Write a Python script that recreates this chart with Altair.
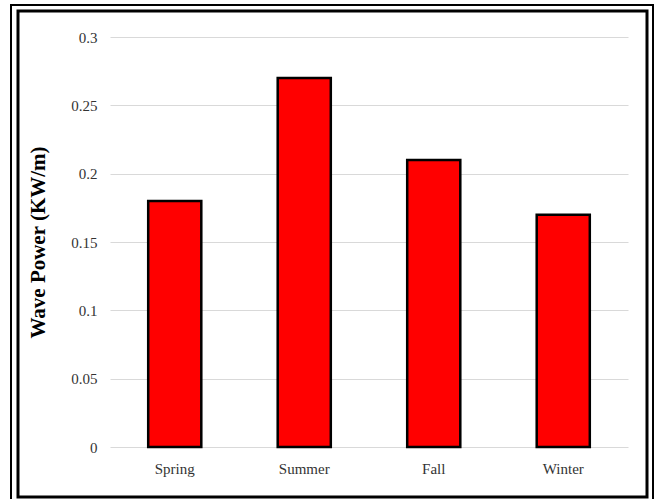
import altair as alt
import pandas as pd

seasons = ["Spring", "Summer", "Fall", "Winter"]
wave_power = [0.18, 0.27, 0.21, 0.17]

df = pd.DataFrame({"Season": seasons, "Power": wave_power})

bars = alt.Chart(df).mark_bar(
    color="#ff0000", stroke="black", strokeWidth=2.5
).encode(
    x=alt.X("Season:N", sort=seasons, title=None,
            scale=alt.Scale(paddingInner=0.59, paddingOuter=0.295),
            axis=alt.Axis(labelAngle=0, labelFont="Liberation Serif", labelFontSize=15,
                          labelColor="#333333", ticks=False, domain=False, labelPadding=14)),
    y=alt.Y("Power:Q", title="Wave Power (KW/m)",
            scale=alt.Scale(domain=[0, 0.3]),
            axis=alt.Axis(values=[0, 0.05, 0.1, 0.15, 0.2, 0.25, 0.3], format="~g",
                          labelFont="Liberation Serif", labelFontSize=15, labelColor="#333333",
                          ticks=False, domain=False, labelPadding=13,
                          gridColor="#d9d9d9", gridWidth=1.2,
                          titleFont="Liberation Serif", titleFontSize=21, titleFontWeight="bold",
                          titleColor="black", titlePadding=22))
)

frame_df = pd.DataFrame({"k": [0]})
outer = alt.Chart(frame_df).mark_rect(fill=None, stroke="black", strokeWidth=2).encode(
    x=alt.value(-99), x2=alt.value(543), y=alt.value(-32), y2=alt.value(466)
)
inner = alt.Chart(frame_df).mark_rect(fill=None, stroke="black", strokeWidth=3).encode(
    x=alt.value(-92), x2=alt.value(537), y=alt.value(-26), y2=alt.value(460)
)

chart = alt.layer(bars, outer, inner).properties(
    width=518, height=410,
    autosize=alt.AutoSizeParams(type="none"),
    padding={"left": 110, "top": 37, "right": 31, "bottom": 52},
    background="white"
).configure_view(stroke=None)

chart.save("out.html", embed_options={"renderer": "svg", "actions": False})
